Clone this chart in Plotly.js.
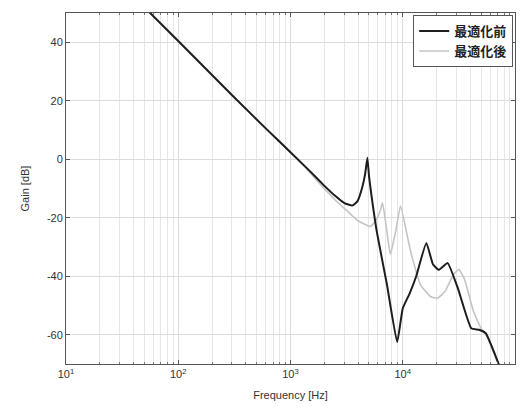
<!DOCTYPE html>
<html>
<head>
<meta charset="utf-8">
<script src="https://cdn.plot.ly/plotly-3.0.1.min.js"></script>
<style>html,body{margin:0;padding:0;background:#fff;}#chart{width:521px;height:407px;}</style>
</head>
<body>
<div id="chart"></div>
<script>
// log10(frequency) and gain [dB]
const seriesNames = ["最適化前", "最適化後"];
const beforeLogF = [1.70, 2.00, 2.50, 2.80, 3.00, 3.15, 3.30, 3.40, 3.48, 3.55, 3.596, 3.64, 3.665, 3.685, 3.70, 3.72, 3.77, 3.86, 3.95, 4.00, 4.06, 4.12, 4.21, 4.27, 4.32, 4.40, 4.49, 4.61, 4.68, 4.74, 4.86, 4.90];
const beforeGain = [51.9, 40.4, 21.1, 9.8, 2.4, -3.2, -9, -12.6, -15, -15.8, -14.4, -9.5, -5, 0.5, -6, -12, -25, -43, -62.5, -51, -46, -40, -28.6, -36, -37.8, -35.5, -44, -57.8, -58.3, -59.5, -70.5, -74];
const afterLogF = [1.70, 2.00, 2.50, 2.80, 3.00, 3.15, 3.30, 3.40, 3.50, 3.60, 3.71, 3.76, 3.80, 3.82, 3.86, 3.89, 3.94, 3.98, 4.07, 4.16, 4.25, 4.31, 4.38, 4.45, 4.50, 4.55, 4.63, 4.70, 4.75, 4.86, 4.90];
const afterGain = [51.9, 40.4, 21.1, 9.8, 2.2, -3.6, -10, -14, -17.5, -21, -23, -21, -17.5, -14.9, -25, -32.5, -24, -16, -31.5, -43, -47, -47.5, -45, -39.5, -37.6, -41, -52, -58, -60.5, -70.5, -74];
const decadeVals = [10, 100, 1000, 10000, 100000];
const decadeText = ["10<sup>1</sup>", "10<sup>2</sup>", "10<sup>3</sup>", "10<sup>4</sup>", "10<sup>5</sup>"];
const minorMult = [2, 3, 4, 5, 6, 7, 8, 9];

const toF = a => a.map(v => Math.pow(10, v));
const minorVals = [];
decadeVals.slice(0, 4).forEach(d => minorMult.forEach(m => minorVals.push(d * m)));

const font = "Liberation Sans, Arial, sans-serif";
const traces = [
  {x: toF(beforeLogF), y: beforeGain, name: seriesNames[0], mode: "lines", line: {color: "#1e1e1e", width: 2, shape: "spline", smoothing: 0.4}},
  {x: toF(afterLogF), y: afterGain, name: seriesNames[1], mode: "lines", line: {color: "#c4c4c4", width: 1.6, shape: "spline", smoothing: 0.4}}
];
// draw gray under black where they overlap
const data = [traces[1], traces[0]];
const layout = {
  width: 521, height: 407,
  margin: {l: 66, r: 6, t: 13, b: 43},
  paper_bgcolor: "#fff", plot_bgcolor: "#fff",
  showlegend: true,
  legend: {x: 0.996, y: 0.994, xanchor: "right", yanchor: "top", bgcolor: "#fff", bordercolor: "#555", borderwidth: 1,
    font: {family: "Noto Sans CJK JP, sans-serif", size: 13, color: "#222", weight: "bold"}, traceorder: "reversed", tracegroupgap: 0},
  xaxis: {type: "log", range: [1, 5], tickmode: "array", tickvals: decadeVals, ticktext: decadeText,
    showgrid: true, gridcolor: "#dcdcdc", gridwidth: 1, showline: true, linecolor: "#555", linewidth: 1, mirror: "ticks",
    ticks: "inside", ticklen: 4, tickcolor: "#555", zeroline: false,
    tickfont: {family: font, size: 11, color: "#333"},
    minor: {tickmode: "array", tickvals: minorVals, showgrid: true, gridcolor: "#e6e6e6", ticks: "inside", ticklen: 2, tickcolor: "#777"},
    title: {text: "Frequency [Hz]", font: {family: font, size: 11, color: "#333"}, standoff: 12}},
  yaxis: {range: [-70, 50], tickmode: "array", tickvals: [-60, -40, -20, 0, 20, 40], ticktext: ["-60", "-40", "-20", "0", "20", "40"],
    showgrid: true, gridcolor: "#dcdcdc", gridwidth: 1, showline: true, linecolor: "#555", linewidth: 1, mirror: "ticks",
    ticks: "inside", ticklen: 4, tickcolor: "#555", zeroline: false,
    tickfont: {family: font, size: 11, color: "#333"},
    title: {text: "Gain [dB]", font: {family: font, size: 11, color: "#333"}, standoff: 15}}
};
Plotly.newPlot("chart", data, layout, {staticPlot: true, displayModeBar: false});
</script>
</body>
</html>
